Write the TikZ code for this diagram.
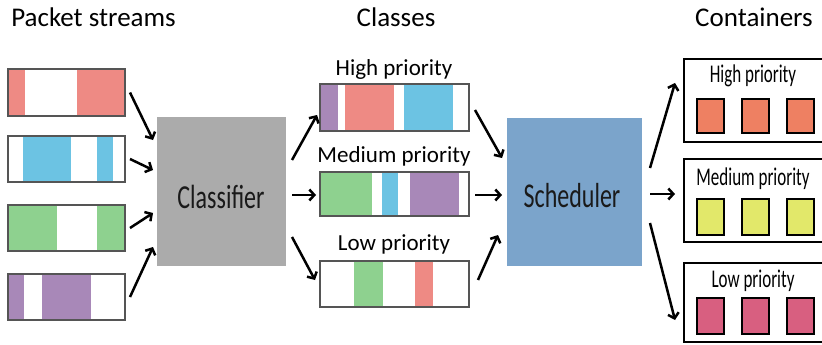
\documentclass[tikz,border=0pt]{standalone}
\usepackage{fontspec}
\setmainfont{Carlito}
\usetikzlibrary{arrows.meta}
\definecolor{pinkS}{HTML}{EE8A84}
\definecolor{blueS}{HTML}{6CC3E3}
\definecolor{greenS}{HTML}{8ED18F}
\definecolor{purpleS}{HTML}{A888B8}
\definecolor{orangeSq}{HTML}{EE8062}
\definecolor{yellowSq}{HTML}{E2E86A}
\definecolor{magentaSq}{HTML}{D85F80}
\definecolor{clsgray}{HTML}{ABABAB}
\definecolor{schblue}{HTML}{7BA4CB}
\definecolor{bordergray}{HTML}{555555}
\definecolor{txtgray}{HTML}{1A1A1A}
\tikzset{
  queue/.style={draw=bordergray, line width=2.6pt, anchor=north west, minimum width=117pt, minimum height=47pt, inner sep=0pt, outer sep=0pt},
  cqueue/.style={draw=bordergray, line width=2.6pt, anchor=north west, minimum width=149pt, minimum height=47pt, inner sep=0pt, outer sep=0pt},
  procbox/.style={anchor=north west, inner sep=0pt, outer sep=0pt},
  contbox/.style={draw=black, line width=2.8pt, anchor=north west, minimum width=146pt, inner sep=0pt, outer sep=0pt},
  sq/.style={draw=black, line width=1.3pt, anchor=north west, minimum width=27pt, minimum height=34pt, inner sep=0pt, outer sep=0pt},
  arr/.style={line width=2.5pt, -{Straight Barb[length=5pt,width=11pt]}},
  title/.style={anchor=base, font=\fontsize{27}{30}\selectfont, inner sep=0pt},
  clabel/.style={anchor=base, font=\fontsize{23}{26}\selectfont, inner sep=0pt},
  klabel/.style={anchor=base, font=\fontsize{17}{20}\selectfont, inner sep=0pt},
  blabel/.style={anchor=base, text=txtgray, font=\fontsize{24}{28}\selectfont, inner sep=0pt},
}
\begin{document}
\begin{tikzpicture}[x=1pt,y=-1pt]
\useasboundingbox (0,0) rectangle (822,345);
\clip (0,0) rectangle (822,345);

% titles
\node[title] (t1) at (93.5,27) {Packet streams};
\node[title] (t2) at (396,27) {Classes};
\node[title] (t3) at (754,27) {Containers};

% packet streams
\fill[pinkS] (8,69) rectangle (25,116);
\fill[pinkS] (77,69) rectangle (125,116);
\node[queue] (s1) at (8,69) {};
\fill[blueS] (23,136) rectangle (71,182);
\fill[blueS] (97,136) rectangle (113,182);
\node[queue, minimum height=46pt] (s2) at (8,136) {};
\fill[greenS] (8,205) rectangle (57,251);
\fill[greenS] (97,205) rectangle (125,251);
\node[queue, minimum height=46pt] (s3) at (8,205) {};
\fill[purpleS] (8,274) rectangle (24,320);
\fill[purpleS] (42,274) rectangle (91,320);
\node[queue, minimum height=46pt] (s4) at (8,274) {};

% classifier
\node[procbox, fill=clsgray, minimum width=129pt, minimum height=149pt] (cls) at (157,117) {};
\node[blabel] (clst) at (221,208) {\scalebox{1}[1.4]{Classifier}};

% classes
\node[clabel] (lh) at (394,75) {High priority};
\fill[purpleS] (320,84) rectangle (338,131);
\fill[pinkS] (345,84) rectangle (394,131);
\fill[blueS] (404,84) rectangle (453,131);
\node[cqueue] (ch) at (320,84) {};
\node[clabel] (lm) at (394,162) {Medium priority};
\fill[greenS] (320,172) rectangle (372,216);
\fill[blueS] (382,172) rectangle (398,216);
\fill[purpleS] (410,172) rectangle (459,216);
\node[cqueue, minimum height=44pt] (cm) at (320,172) {};
\node[clabel] (ll) at (394,250) {Low priority};
\fill[greenS] (354,261) rectangle (383,307);
\fill[pinkS] (415,261) rectangle (433,307);
\node[cqueue, minimum height=46pt] (cl) at (320,261) {};

% scheduler
\node[procbox, fill=schblue, minimum width=135pt, minimum height=148pt] (sch) at (507,118) {};
\node[blabel] (scht) at (572,207) {\scalebox{1}[1.45]{Scheduler}};

% containers
\node[contbox, minimum height=83pt] (kh) at (684,59) {};
\node[klabel] (kht) at (753,83) {\scalebox{1}[1.5]{High priority}};
\node[sq, fill=orangeSq] (h1) at (697,99) {};
\node[sq, fill=orangeSq] (h2) at (742,99) {};
\node[sq, fill=orangeSq] (h3) at (787,99) {};

\node[contbox, minimum height=83pt] (km) at (684,159) {};
\node[klabel] (kmt) at (753,185) {\scalebox{1}[1.5]{Medium priority}};
\node[sq, fill=yellowSq, minimum height=36pt] (m1) at (697,199) {};
\node[sq, fill=yellowSq, minimum height=36pt] (m2) at (742,199) {};
\node[sq, fill=yellowSq, minimum height=36pt] (m3) at (787,199) {};

\node[contbox, minimum height=79pt] (kl) at (684,263) {};
\node[klabel] (klt) at (753,287) {\scalebox{1}[1.5]{Low priority}};
\node[sq, fill=magentaSq, minimum height=36pt] (l1) at (697,298) {};
\node[sq, fill=magentaSq, minimum height=36pt] (l2) at (742,298) {};
\node[sq, fill=magentaSq, minimum height=36pt] (l3) at (787,298) {};

% arrows: streams -> classifier
\draw[arr] ([shift={(5,0)}]s1.east) -- ([shift={(-4,-51.5)}]cls.west);
\draw[arr] ([shift={(5,0)}]s2.east) -- ([shift={(-4,-21.5)}]cls.west);
\draw[arr] ([shift={(5,0)}]s3.east) -- ([shift={(-4,21.5)}]cls.west);
\draw[arr] ([shift={(5,0)}]s4.east) -- ([shift={(-4,55.5)}]cls.west);
% classifier -> classes
\draw[arr] ([shift={(6,-31.5)}]cls.east) -- ([shift={(-3,7.5)}]ch.west);
\draw[arr] ([shift={(6,3.5)}]cls.east) -- ([shift={(-4,1)}]cm.west);
\draw[arr] ([shift={(6,45.5)}]cls.east) -- ([shift={(-5,-4)}]cl.west);
% classes -> scheduler
\draw[arr] ([shift={(6,2.5)}]ch.east) -- ([shift={(-5,-34)}]sch.west);
\draw[arr] ([shift={(6,1)}]cm.east) -- ([shift={(-5,3)}]sch.west);
\draw[arr] ([shift={(9,-4)}]cl.east) -- ([shift={(-9,43)}]sch.west);
% scheduler -> containers
\draw[arr] ([shift={(8,-24)}]sch.east) -- ([shift={(-9,-17.5)}]kh.west);
\draw[arr] ([shift={(8,2)}]sch.east) -- ([shift={(-9,-6.5)}]km.west);
\draw[arr] ([shift={(8,31)}]sch.east) -- ([shift={(-9,17.5)}]kl.west);
\end{tikzpicture}
\end{document}
